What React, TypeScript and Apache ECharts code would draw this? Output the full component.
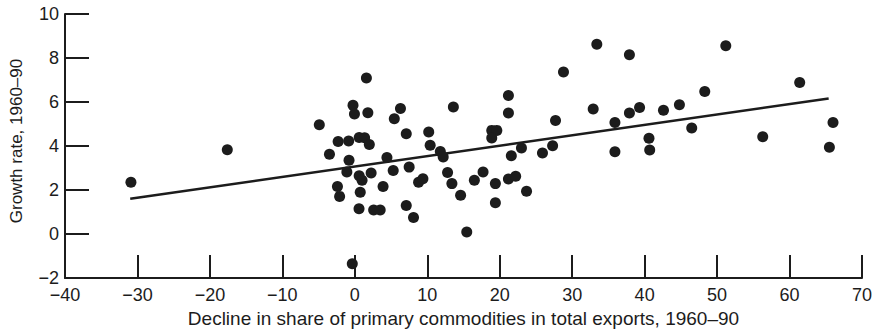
import React, { useEffect, useRef } from "react";
import * as echarts from "echarts";

// Decline in share of primary commodities (x) vs growth rate (y)
const declineShare: number[] = [
  -30.9, -17.6, -4.9, -3.5, -2.3, -2.4, -2.1, -0.85, -0.8, -1.1,
  -0.25, -0.05, -0.35, 0.6, 1.35, 2.0, 1.6, 1.8, 0.6, 1.0,
  2.25, 0.75, 0.58, 2.6, 3.5, 3.9, 4.43, 5.3, 5.45, 6.3,
  7.1, 7.5, 7.1, 8.1, 8.8, 9.4, 10.2, 10.4, 11.8, 12.2,
  12.8, 13.4, 13.6, 14.6, 15.45, 16.5, 17.7, 18.9, 19.6, 18.9,
  19.4, 19.4, 21.2, 21.2, 21.6, 21.2, 22.2, 23.0, 23.7, 25.9,
  27.3, 27.7, 28.8, 32.9, 33.4, 35.9, 35.9, 37.9, 37.9, 39.3,
  40.6, 40.7, 42.6, 44.8, 46.5, 48.3, 51.2, 56.3, 61.4, 65.5,
  66.0,
];
const growthRate: number[] = [
  2.35, 3.83, 4.97, 3.62, 4.2, 2.16, 1.71, 4.23, 3.35, 2.82,
  5.85, 5.45, -1.35, 4.39, 4.38, 4.07, 7.09, 5.51, 2.65, 2.44,
  2.77, 1.9, 1.15, 1.09, 1.09, 2.16, 3.48, 2.89, 5.24, 5.7,
  4.56, 3.04, 1.3, 0.75, 2.35, 2.51, 4.64, 4.03, 3.75, 3.5,
  2.8, 2.29, 5.77, 1.76, 0.09, 2.44, 2.82, 4.71, 4.71, 4.36,
  2.29, 1.42, 6.3, 5.5, 3.56, 2.5, 2.62, 3.91, 1.94, 3.68,
  4.01, 5.16, 7.36, 5.68, 8.62, 5.07, 3.74, 8.15, 5.5, 5.75,
  4.35, 3.82, 5.62, 5.88, 4.82, 6.48, 8.56, 4.42, 6.89, 3.94,
  5.07,
];

// Fitted regression line end points
const fitX: number[] = [-31, 65.4];
const fitY: number[] = [1.6, 6.16];

const xTitle = "Decline in share of primary commodities in total exports, 1960–90";
const yTitle = "Growth rate, 1960–90";

const FONT = "'Liberation Sans', Arial, sans-serif";
const INK = "#1c1c1c";

const fmt = (v: number) => String(v).replace("-", "\u2212");

export default function App() {
  const ref = useRef<HTMLDivElement>(null);
  useEffect(() => {
    if (!ref.current) return;
    const chart = echarts.init(ref.current, undefined, { renderer: "svg" });
    const points = declineShare.map((x, i) => [x, growthRate[i]]);
    const fit = fitX.map((x, i) => [x, fitY[i]]);
    chart.setOption({
      animation: false,
      backgroundColor: "#ffffff",
      grid: { left: 64, right: 19, top: 14, bottom: 55, containLabel: false },
      xAxis: {
        type: "value",
        min: -40,
        max: 70,
        interval: 10,
        name: xTitle,
        nameLocation: "middle",
        nameGap: 31,
        nameTextStyle: { fontFamily: FONT, fontSize: 19, color: INK },
        axisLine: { show: true, onZero: false, lineStyle: { color: INK, width: 2 } },
        axisTick: { show: true, inside: true, length: 23, lineStyle: { color: INK, width: 2 } },
        axisLabel: { fontFamily: FONT, fontSize: 18, color: INK, margin: 8, formatter: fmt },
        splitLine: { show: false },
      },
      yAxis: {
        type: "value",
        min: -2,
        max: 10,
        interval: 2,
        name: yTitle,
        nameLocation: "middle",
        nameGap: 40,
        nameTextStyle: { fontFamily: FONT, fontSize: 17, color: INK, padding: [0, 0, 0, 10] },
        axisLine: { show: true, onZero: false, lineStyle: { color: INK, width: 2 } },
        axisTick: { show: true, inside: true, length: 24, lineStyle: { color: INK, width: 2 } },
        axisLabel: { fontFamily: FONT, fontSize: 18, color: INK, margin: 6, formatter: fmt },
        splitLine: { show: false },
      },
      series: [
        {
          type: "line",
          data: fit,
          symbol: "none",
          lineStyle: { color: INK, width: 2.6 },
          z: 3,
        },
        {
          type: "scatter",
          data: points,
          symbol: "circle",
          symbolSize: 11,
          itemStyle: { color: INK, opacity: 1 },
          z: 4,
        },
      ],
    });
    return () => chart.dispose();
  }, []);
  return (
    <div
      ref={ref}
      style={{ position: "fixed", left: 0, top: 0, width: 881, height: 333, background: "#fff" }}
    />
  );
}
